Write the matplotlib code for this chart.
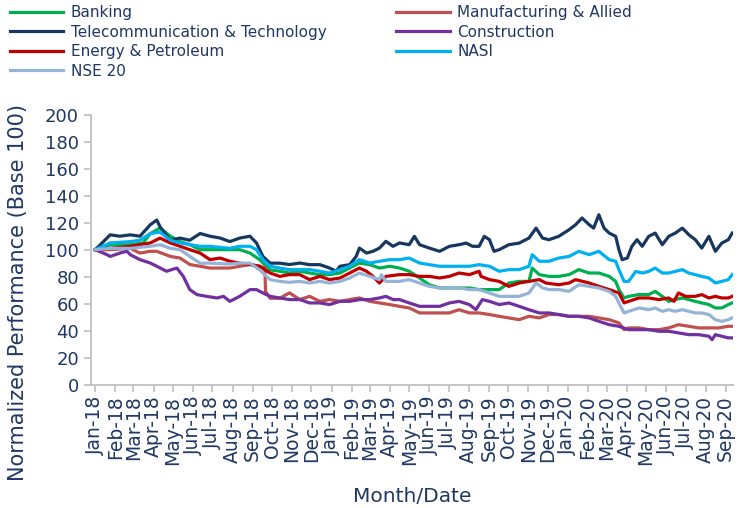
import numpy as np
import matplotlib
matplotlib.use('Agg')
import matplotlib.pyplot as plt
import matplotlib.dates as mdates

#%% data: day offsets from 2018-01-01 and index level (base 100)
banking_days = [0, 23, 54, 74, 85, 100, 116, 131, 146, 162, 177, 208, 223, 239, 254, 270, 285, 300,
                316, 331, 347, 362, 378, 393, 408, 424, 439, 455, 470, 485, 501, 516, 532, 547, 562, 578, 593, 609, 624,
                639, 655, 670, 675, 686, 701, 716, 732, 747, 763, 778, 794, 804, 809, 817, 824, 840, 855, 865, 876,
                886, 896, 907, 917, 927, 937, 948, 958, 968, 978, 984]
banking = [100, 103.7, 103.7, 105, 112, 116, 110, 106, 103.7, 100, 100, 100, 100, 97.5, 92.6, 85, 84, 82.7,
           84, 82.7, 81.5, 81.5, 82.7, 86.4, 90.1, 88.9, 86.4, 87.7, 86.4, 84, 79, 74, 71.6, 71.6, 71.6, 71.6, 70.4, 70.4, 70.4,
           75.3, 76.5, 76.5, 86.4, 81.5, 80.2, 80.2, 81.5, 85.2, 82.7, 82.7, 80.2, 76.5, 70.4, 64.2, 65.4, 66.7, 66.7, 69.1, 65.4,
           61.7, 63, 64.2, 63, 61.7, 60.5, 59.3, 56.8, 56.8, 59.3, 60.5]

manuf_days = [0, 23, 54, 69, 85, 95, 116, 131, 146, 162, 177, 208, 239, 254, 262, 263, 270, 285, 300,
              316, 331, 347, 362, 378, 393, 408, 424, 439, 455, 470, 485, 501, 516, 532, 547, 562, 578, 593, 609, 624,
              639, 655, 670, 686, 701, 716, 732, 747, 763, 778, 794, 809, 817, 824, 840, 855, 871, 886, 901, 917,
              932, 948, 963, 978, 984]
manuf = [100, 100, 101, 97.5, 98.8, 98.8, 95, 93.8, 89, 87.7, 86.4, 86.4, 89, 87.7, 86.4, 69, 64, 64, 68,
         63, 65.4, 61.7, 63, 61.7, 63, 64.2, 61.7, 60.5, 59.3, 58, 56.8, 53.1, 53.1, 53.1, 53.1, 55.5, 53.1, 53.1, 51.9, 50.6,
         49.4, 48.1, 50.6, 49.4, 51.9, 51.9, 50.6, 50.6, 50.6, 49.4, 48.1, 45.7, 40.7, 42, 42, 40.7, 40.7, 42, 44.4, 43.2,
         42, 42, 42, 43.2, 43.2]

telco_days = [0, 23, 38, 54, 69, 85, 95, 100, 116, 131, 146, 162, 177, 193, 208, 223, 239, 249, 259, 270, 285, 300,
              316, 331, 347, 362, 372, 378, 393, 403, 408, 419, 429, 439, 449, 460, 470, 485, 493, 501, 516, 532, 547,
              562, 573, 583, 593, 601, 609, 616, 624,
              639, 655, 670, 681, 691, 701, 716, 732, 742, 752, 763, 770, 778, 786, 794, 804, 809, 814, 822, 829, 837,
              845, 855, 865, 876, 886, 896, 907, 917, 927, 937, 948, 958, 968, 978, 984]
telco = [100, 111, 110, 111, 110, 118.5, 122, 117, 107, 108.6, 107, 112, 110, 108.6, 106, 108.6, 110, 105, 95, 90, 90, 89,
         90.1, 88.9, 88.9, 86.4, 84, 87.7, 88.9, 95, 101.2, 97.5, 98.8, 101.2, 106.2, 102.5, 105, 103.7, 109.9, 103.7, 101.2, 98.8, 102.5,
         103.7, 104.9, 102.5, 102.5, 109.9, 107.4, 98.8, 100,
         103.7, 104.9, 108.6, 116, 108.6, 107.4, 109.9, 114.8, 118.5, 123.5, 118.5, 116, 125.9, 116, 112.3, 109.9, 100, 92.6, 93.8, 102.5, 107.4,
         102.5, 109.9, 112.3, 103.7, 109.9, 112.3, 116, 111.1, 107.4, 101.2, 109.9, 98.8, 104.9, 107.4, 112.3]

constr_days = [0, 18, 23, 38, 49, 54, 69, 85, 95, 110, 126, 136, 146, 157, 172, 188, 198, 208, 223, 239, 249, 259, 270, 285, 300,
               316, 331, 347, 362, 378, 393, 408, 424, 439, 449, 460, 470, 485, 501, 516, 532, 547, 562, 578, 588, 598, 609, 624,
               639, 655, 670, 686, 701, 716, 732, 747, 763, 778, 794, 809, 824, 840, 855, 871, 886, 901, 917, 932,
               948, 953, 958, 968, 978, 984]
constr = [100, 96.3, 95, 97.5, 98.8, 96.3, 92.6, 90.1, 87.7, 84, 86.4, 80.2, 70.4, 66.7, 65.4, 64.2, 65.4, 61.7, 65.4, 70.4, 70.4, 67.9, 65.4, 64.2, 63,
          63, 60.5, 60.5, 59.3, 61.7, 61.7, 63, 63, 64.2, 65.4, 63, 63, 60.5, 58, 58, 58, 60.5, 61.7, 59.3, 55.5, 63, 61.7, 59.3,
          60.5, 58, 55.5, 53.1, 53.1, 51.9, 50.6, 50.6, 49.4, 46.9, 44.4, 43.2, 40.7, 40.7, 40.7, 39.5, 39.5, 38.3, 37, 37,
          35.8, 33.3, 37, 35.8, 34.6, 34.6]

energy_days = [0, 23, 54, 85, 100, 116, 131, 146, 162, 177, 193, 208, 223, 239, 254, 270, 285, 300,
               316, 331, 347, 362, 378, 393, 408, 419, 429, 439, 449, 470, 485, 501, 516, 532, 547, 562, 578, 593, 596, 609, 624,
               639, 655, 670, 686, 696, 716, 732, 742, 763, 778, 794, 809, 817, 824, 840, 855, 871, 886, 894, 901,
               912, 927, 937, 948, 958, 968, 978, 984]
energy = [100, 101, 102.5, 105, 108.6, 105, 102.5, 100, 97.5, 92.6, 93.8, 91.4, 90, 89, 87.7, 82.7, 80.2, 81.5,
          81.5, 77.8, 80.2, 77.8, 79, 82.7, 86.4, 84, 80.2, 75.3, 80.2, 81.5, 81.5, 80.2, 80.2, 79, 80.2, 82.7, 81.5, 84, 80.2, 77.8, 76.5,
          72.8, 75.3, 76.5, 77.8, 75.3, 74, 75.3, 77.8, 75.3, 72.8, 70.4, 67.9, 60.5, 61.7, 64.2, 64.2, 63, 64.2, 61.7, 67.9,
          65.4, 65.4, 66.7, 64.2, 65.4, 64.2, 64.2, 65.4]

nasi_days = [0, 23, 54, 69, 85, 100, 116, 131, 146, 162, 177, 208, 223, 239, 249, 259, 270, 285, 300,
             316, 331, 347, 362, 378, 393, 408, 424, 439, 455, 470, 485, 501, 516, 532, 547, 562, 578, 593, 609, 624,
             639, 655, 670, 675, 686, 701, 716, 732, 747, 763, 778, 794, 804, 809, 817, 824, 835, 845, 855, 865, 876,
             886, 896, 907, 917, 927, 937, 948, 958, 968, 978, 984]
nasi = [100, 105, 106, 107, 112, 113, 107, 105, 103.7, 102.5, 102.5, 101, 102.5, 102.5, 100, 92.6, 87.7, 86.4, 85.2,
        85.2, 85.2, 84, 82.7, 85.2, 87.7, 92.6, 90.1, 91.4, 92.6, 92.6, 93.8, 90.1, 88.9, 87.7, 87.7, 87.7, 87.7, 88.9, 87.7, 84,
        85.2, 85.2, 87.7, 96.3, 91.4, 91.4, 93.8, 95, 98.8, 96.3, 98.8, 92.6, 91.4, 85.2, 76.5, 76.5, 83.9, 82.7, 83.9, 86.4, 82.7,
        82.7, 83.9, 85.2, 82.7, 81.5, 80.2, 79, 75.3, 76.5, 77.8, 81.5]

nse20_days = [0, 23, 54, 85, 100, 116, 131, 146, 162, 177, 193, 208, 223, 239, 254, 270, 285, 300,
              316, 331, 347, 362, 378, 393, 408, 424, 439, 442, 449, 470, 485, 501, 516, 532, 547, 562, 578, 593, 609, 624,
              639, 655, 670, 681, 691, 701, 716, 732, 747, 763, 778, 794, 804, 809, 817, 824, 840, 855, 865, 876,
              886, 896, 907, 917, 927, 937, 948, 958, 968, 978, 984]
nse20 = [100, 101, 101, 102.5, 103.7, 101, 100, 95, 90, 90, 89.6, 89.4, 90, 90, 85, 77.8, 76.5, 75.8,
         76.5, 75.3, 76.5, 75.3, 76.5, 79, 82.7, 80.2, 77.8, 81.5, 76.5, 76.5, 77.8, 75.3, 72.8, 71.6, 71.6, 71.6, 70.4, 70.4, 67.9, 65.4,
         65.4, 65.4, 67.9, 75.3, 71.6, 70.4, 70.4, 69.1, 74, 72.8, 71.6, 69.1, 65.4, 60.5, 53.1, 54.3, 56.8, 55.5, 56.8, 54.3,
         55.5, 54.3, 55.5, 54.3, 53.1, 53.1, 51.9, 48.1, 46.9, 48.1, 49.4]

series = [
    ("Banking", banking_days, banking, "#00B050"),
    ("Manufacturing & Allied", manuf_days, manuf, "#C0504D"),
    ("Telecommunication & Technology", telco_days, telco, "#17375E"),
    ("Construction", constr_days, constr, "#7030A0"),
    ("Energy & Petroleum", energy_days, energy, "#C00000"),
    ("NASI", nasi_days, nasi, "#00B0F0"),
    ("NSE 20", nse20_days, nse20, "#95B3D7"),
]

#%% plot
txt = "#1F3864"
base = np.datetime64("2018-01-01")

fig = plt.figure(figsize=(7.38, 5.08), dpi=100)
ax = fig.add_axes([0.123, 0.243, 0.870, 0.531])

lines = {}
for name, d, v, c in series:
    dates = base + np.array(d, dtype="timedelta64[D]")
    lines[name], = ax.plot(dates, v, color=c, lw=2.3, label=name, solid_joinstyle="round")

ax.set_ylim(0, 200)
ax.set_yticks(np.arange(0, 201, 20))
ax.set_xlim(base - np.timedelta64(7, "D"), base + np.timedelta64(985, "D"))
ax.xaxis.set_major_locator(mdates.MonthLocator())
ax.xaxis.set_major_formatter(mdates.DateFormatter("%b-%y"))
plt.setp(ax.get_xticklabels(), rotation=90)

for s in ["top", "right"]:
    ax.spines[s].set_visible(False)
for s in ["left", "bottom"]:
    ax.spines[s].set_color("#BFBFBF")
    ax.spines[s].set_linewidth(1.3)
ax.tick_params(axis="both", colors="#BFBFBF", length=5, width=1.2, labelcolor=txt, labelsize=13)
ax.tick_params(axis="x", pad=3, labelsize=13.5)

ax.set_ylabel("Normalized Performance (Base 100)", fontsize=15, color=txt)
ax.yaxis.set_label_coords(-0.097, 0.34)
ax.set_xlabel("Month/Date", fontsize=14.5, color=txt, labelpad=16)

left = ["Banking", "Telecommunication & Technology", "Energy & Petroleum", "NSE 20"]
right = ["Manufacturing & Allied", "Construction", "NASI"]
kw = dict(frameon=False, fontsize=11, labelcolor=txt, handlelength=3.5, handletextpad=0.5,
          labelspacing=0.3, borderaxespad=0, borderpad=0)
fig.legend([lines[n] for n in left], left, loc="upper left", bbox_to_anchor=(0.013, 0.99), **kw)
fig.legend([lines[n] for n in right], right, loc="upper left", bbox_to_anchor=(0.537, 0.99), **kw)

fig.savefig("out.png", dpi=100)
